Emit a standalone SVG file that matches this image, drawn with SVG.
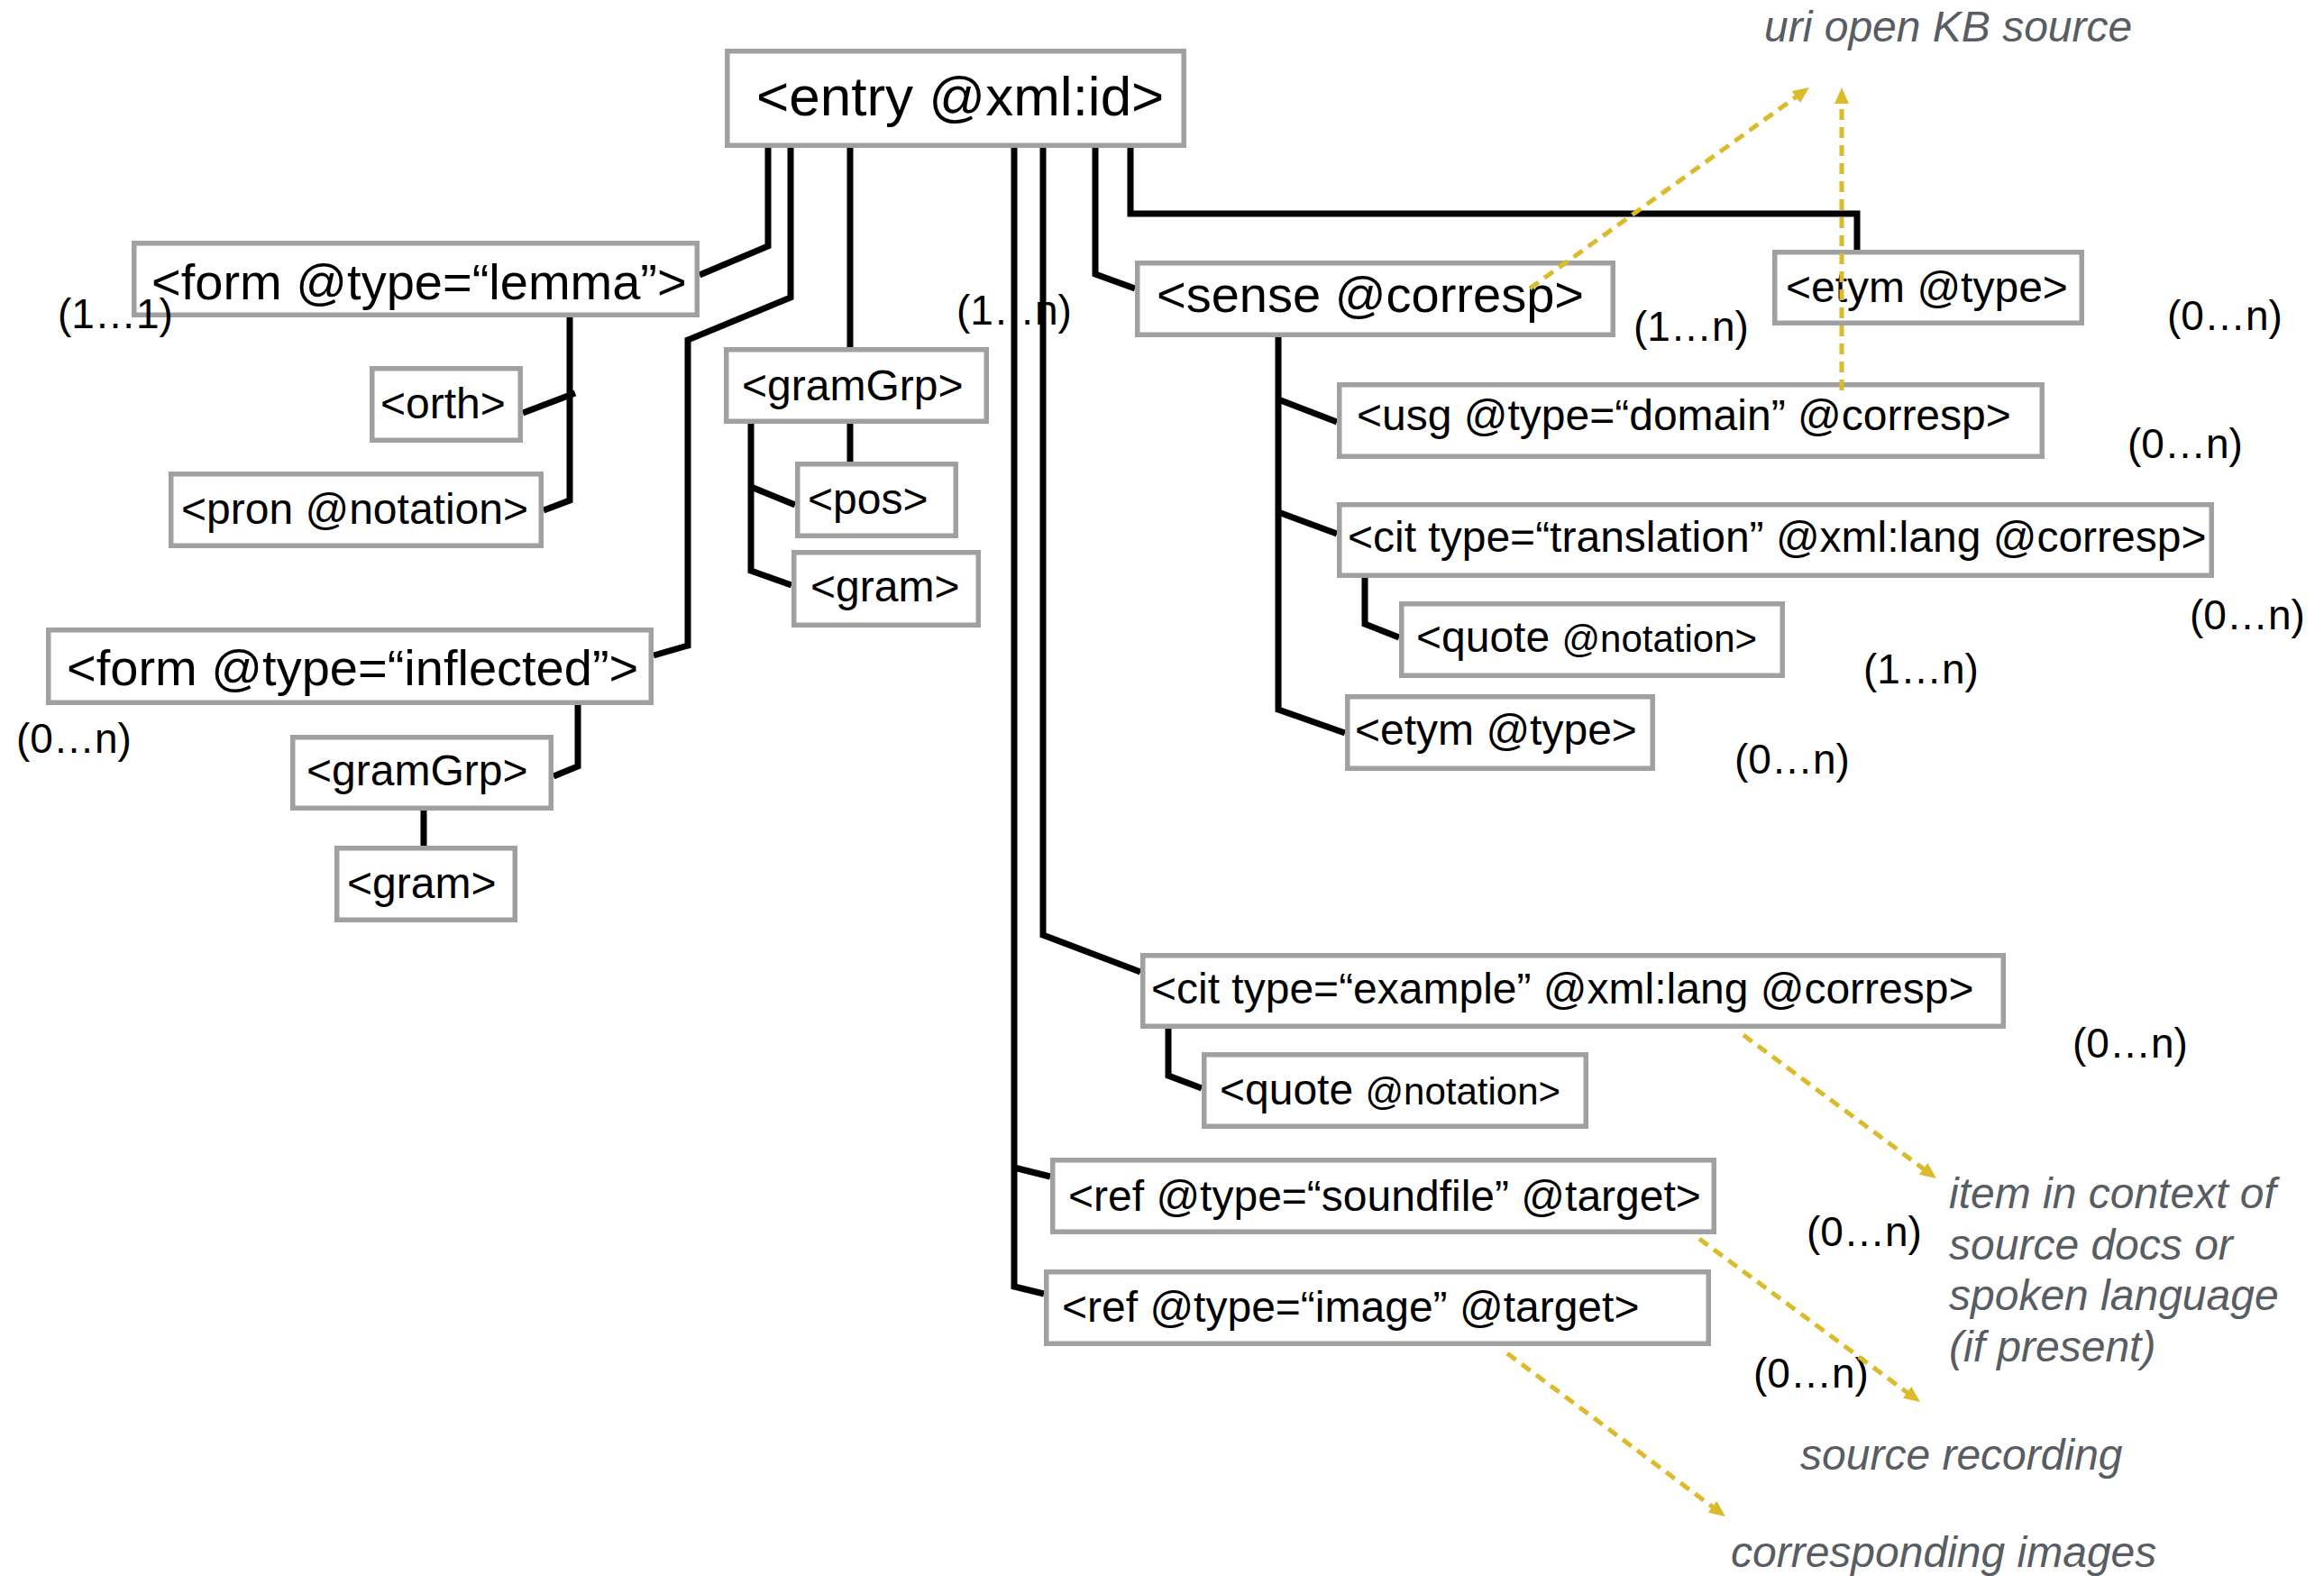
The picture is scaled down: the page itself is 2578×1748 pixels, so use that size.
<svg xmlns="http://www.w3.org/2000/svg" width="2578" height="1748" viewBox="0 0 2578 1748">
<style>
.box{fill:#ffffff;stroke:#a0a0a0;stroke-width:5.5}
.t{font-family:"Liberation Sans",Arial,Helvetica,sans-serif;fill:#000000;font-size:48px}
.big{font-size:56px}
.entry{font-size:62px}
.small{font-size:42px}
.mult{font-family:"Liberation Sans",Arial,Helvetica,sans-serif;fill:#000000;font-size:46px}
.note{font-family:"Liberation Sans",Arial,Helvetica,sans-serif;font-style:italic;fill:#585c63;font-size:48px}
.line{fill:none;stroke:#000000;stroke-width:7;stroke-linejoin:miter;stroke-linecap:butt}
.ref{fill:none;stroke:#dbbb2a;stroke-width:5;stroke-dasharray:12 8;marker-end:url(#ah)}
</style>
<defs>
<marker id="ah" viewBox="0 0 18 16" refX="4" refY="8" markerWidth="18" markerHeight="16" markerUnits="userSpaceOnUse" orient="auto">
<path d="M0,0 L18,8 L0,16 z" fill="#dbbb2a"/>
</marker>
</defs>
<rect width="2578" height="1748" fill="#ffffff"/>

<g id="connectors">
<path class="line" d="M852,164 V273 L776,305"/>
<path class="line" d="M877,164 V330 L763,377 V716 L725,727"/>
<path class="line" d="M943,164 V385"/>
<path class="line" d="M1125,164 V1427 L1158,1435"/>
<path class="line" d="M1125,1295 L1165,1305"/>
<path class="line" d="M1157,164 V1037 L1265,1078"/>
<path class="line" d="M1215,164 V304 L1259,320"/>
<path class="line" d="M1254,164 V237 H2060 V277"/>
<path class="line" d="M632,352 V555 L603,566"/>
<path class="line" d="M638,436 L580,458"/>
<path class="line" d="M833,470 V633 L878,649"/>
<path class="line" d="M833,540 L882,560"/>
<path class="line" d="M943,470 V512"/>
<path class="line" d="M641,782 V850 L614,861"/>
<path class="line" d="M470,899 V938"/>
<path class="line" d="M1418,374 V787 L1492,813"/>
<path class="line" d="M1418,443 L1483,468"/>
<path class="line" d="M1418,568 L1483,592"/>
<path class="line" d="M1514,641 V692 L1552,707"/>
<path class="line" d="M1296,1141 V1193 L1333,1207"/>
</g>

<g id="node-entry"><rect class="box" x="806.75" y="56.75" width="506.5" height="104.5"/><text class="t entry" x="839" y="128">&lt;entry @xml:id&gt;</text></g>
<g id="node-form-lemma"><rect class="box" x="148.75" y="269.75" width="624.5" height="79.5"/><text class="t big" x="168" y="332">&lt;form @type=“lemma”&gt;</text></g>
<g id="node-orth"><rect class="box" x="412.75" y="408.75" width="164.5" height="79.5"/><text class="t" x="422" y="464">&lt;orth&gt;</text></g>
<g id="node-pron"><rect class="box" x="189.75" y="525.75" width="410.5" height="79.5"/><text class="t" x="201" y="581">&lt;pron @notation&gt;</text></g>
<g id="node-gramGrp1"><rect class="box" x="805.75" y="387.75" width="288.5" height="79.5"/><text class="t" x="823" y="444">&lt;gramGrp&gt;</text></g>
<g id="node-pos"><rect class="box" x="884.75" y="514.75" width="175.5" height="79.5"/><text class="t" x="896" y="570">&lt;pos&gt;</text></g>
<g id="node-gram1"><rect class="box" x="880.75" y="612.75" width="204.5" height="80.5"/><text class="t" x="899" y="667">&lt;gram&gt;</text></g>
<g id="node-form-inflected"><rect class="box" x="53.75" y="698.75" width="668.5" height="80.5"/><text class="t big" x="74" y="760">&lt;form @type=“inflected”&gt;</text></g>
<g id="node-gramGrp2"><rect class="box" x="324.75" y="817.75" width="286.5" height="78.5"/><text class="t" x="340" y="871">&lt;gramGrp&gt;</text></g>
<g id="node-gram2"><rect class="box" x="373.75" y="940.75" width="197.5" height="79.5"/><text class="t" x="385" y="996">&lt;gram&gt;</text></g>
<g id="node-sense"><rect class="box" x="1261.75" y="291.75" width="527.5" height="79.5"/><text class="t big" x="1283" y="346">&lt;sense @corresp&gt;</text></g>
<g id="node-etym1"><rect class="box" x="1968.75" y="279.75" width="340.5" height="78.5"/><text class="t" x="1981" y="335">&lt;etym @type&gt;</text></g>
<g id="node-usg"><rect class="box" x="1485.75" y="426.75" width="779.5" height="79.5"/><text class="t" x="1505" y="477">&lt;usg @type=“domain” @corresp&gt;</text></g>
<g id="node-cit-translation"><rect class="box" x="1485.75" y="559.75" width="967.5" height="78.5"/><text class="t" x="1495" y="612">&lt;cit type=“translation” @xml:lang @corresp&gt;</text></g>
<g id="node-quote1"><rect class="box" x="1554.75" y="669.75" width="422.5" height="79.5"/><text class="t" x="1571" y="723">&lt;quote <tspan class="small">@notation&gt;</tspan></text></g>
<g id="node-etym2"><rect class="box" x="1494.75" y="772.75" width="338.5" height="79.5"/><text class="t" x="1503" y="826">&lt;etym @type&gt;</text></g>
<g id="node-cit-example"><rect class="box" x="1267.75" y="1059.75" width="954.5" height="78.5"/><text class="t" x="1277" y="1113">&lt;cit type=“example” @xml:lang @corresp&gt;</text></g>
<g id="node-quote2"><rect class="box" x="1335.75" y="1169.75" width="423.5" height="79.5"/><text class="t" x="1353" y="1225">&lt;quote <tspan class="small">@notation&gt;</tspan></text></g>
<g id="node-ref-sound"><rect class="box" x="1167.75" y="1286.75" width="733.5" height="79.5"/><text class="t" x="1185" y="1343">&lt;ref @type=“soundfile” @target&gt;</text></g>
<g id="node-ref-image"><rect class="box" x="1160.75" y="1410.75" width="734.5" height="79.5"/><text class="t" x="1178" y="1466">&lt;ref @type=“image” @target&gt;</text></g>

<g id="multiplicities">
<text class="mult" x="64" y="364">(1…1)</text>
<text class="mult" x="1061" y="360">(1…n)</text>
<text class="mult" x="1812" y="378">(1…n)</text>
<text class="mult" x="2404" y="366">(0…n)</text>
<text class="mult" x="2360" y="508">(0…n)</text>
<text class="mult" x="2429" y="698">(0…n)</text>
<text class="mult" x="2067" y="758">(1…n)</text>
<text class="mult" x="1924" y="858">(0…n)</text>
<text class="mult" x="18" y="835">(0…n)</text>
<text class="mult" x="2299" y="1173">(0…n)</text>
<text class="mult" x="2004" y="1382">(0…n)</text>
<text class="mult" x="1945" y="1539">(0…n)</text>
</g>

<g id="notes">
<text class="note" x="1957" y="46">uri open KB source</text>
<text class="note" x="2162" y="1340">item in context of</text>
<text class="note" x="2162" y="1397">source docs or</text>
<text class="note" x="2162" y="1453">spoken language</text>
<text class="note" x="2162" y="1510">(if present)</text>
<text class="note" x="1997" y="1630">source recording</text>
<text class="note" x="1920" y="1738">corresponding images</text>
</g>

<g id="reference-connectors">
<path class="ref" d="M1697,320 L1995.6,105.2"/>
<path class="ref" d="M2043,433 L2043,111"/>
<path class="ref" d="M1934,1148 L2136.8,1298.7"/>
<path class="ref" d="M1885,1374 L2118.7,1546.7"/>
<path class="ref" d="M1672,1501 L1902.8,1673.6"/>
</g>
</svg>
